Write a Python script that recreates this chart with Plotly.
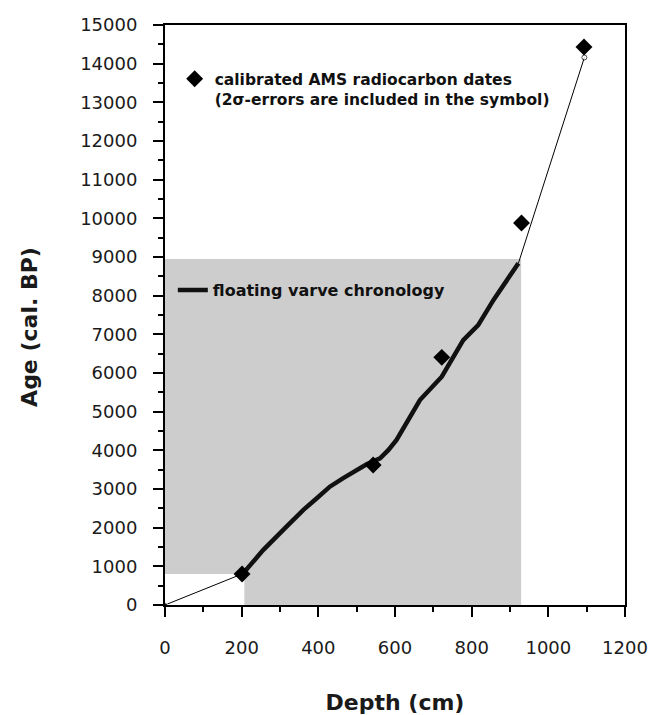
import plotly.graph_objects as go

# ---- data ----
# calibrated AMS radiocarbon dates (depth cm, age cal. BP)
ams_depth = [201, 543, 722, 930, 1093]
ams_age = [800, 3620, 6405, 9880, 14430]

# floating varve chronology
varve_depth = [203, 256, 317, 361, 396, 430, 465, 500, 526, 561, 583, 604,
               665, 722, 743, 778, 817, 857, 922]
varve_age = [810, 1420, 2025, 2460, 2760, 3060, 3280, 3475, 3640, 3795, 4010,
             4270, 5300, 5905, 6250, 6850, 7240, 7890, 8840]

# extrapolated parts of the age model
lower_depth = [0, 203]
lower_age = [0, 810]
upper_depth = [922, 1094]
upper_age = [8840, 14160]

# shaded varve-counted interval (L-shaped region)
shade_depth = [0, 929, 929, 207, 207, 0, 0]
shade_age = [8950, 8950, 0, 0, 800, 800, 8950]

x_ticks = [0, 200, 400, 600, 800, 1000, 1200]
y_ticks = list(range(0, 15001, 1000))

fig = go.Figure()

fig.add_trace(go.Scatter(
    x=shade_depth, y=shade_age, mode="lines", fill="toself",
    fillcolor="#cdcdcd", line=dict(width=0, color="rgba(0,0,0,0)"),
    hoverinfo="skip", showlegend=False))

fig.add_trace(go.Scatter(
    x=lower_depth, y=lower_age, mode="lines+markers",
    line=dict(color="black", width=1),
    marker=dict(size=[5, 0], color="black"),
    showlegend=False))

fig.add_trace(go.Scatter(
    x=upper_depth, y=upper_age, mode="lines+markers",
    line=dict(color="black", width=1),
    marker=dict(size=[0, 5], color="white", symbol="circle",
                line=dict(color="black", width=1)),
    showlegend=False))

fig.add_trace(go.Scatter(
    x=varve_depth, y=varve_age, mode="lines",
    line=dict(color="#111111", width=4.5),
    name="floating varve chronology", legend="legend2"))

fig.add_trace(go.Scatter(
    x=ams_depth, y=ams_age, mode="markers",
    marker=dict(symbol="diamond", size=13, color="black"),
    name="calibrated AMS radiocarbon dates<br>(2σ-errors are included in the symbol)",
    legend="legend"))

axis_common = dict(
    showgrid=False, zeroline=False, showline=True, linecolor="black",
    linewidth=2, mirror=True, ticks="outside", ticklen=10, tickwidth=1.5,
    tickcolor="black", automargin=False,
    tickfont=dict(family="DejaVu Sans", size=18, color="#1a1a1a"),
)

fig.update_xaxes(
    range=[0, 1200], tickvals=x_ticks, ticklabelstandoff=15,
    minor=dict(dtick=100, ticks="outside", ticklen=5, tickwidth=1.5,
               tickcolor="black"),
    title=dict(text="Depth (cm)", standoff=40,
               font=dict(family="DejaVu Sans", size=22, color="#1a1a1a",
                         weight="bold")),
    **axis_common)

fig.update_yaxes(
    range=[0, 15000], tickvals=y_ticks, tickformat="d", ticklabelstandoff=12,
    minor=dict(dtick=500, ticks="outside", ticklen=5, tickwidth=1.5,
               tickcolor="black"),
    **axis_common)

fig.add_annotation(
    text="Age (cal. BP)", textangle=-90, xref="paper", yref="paper",
    x=-0.295, y=0.48, xanchor="center", yanchor="middle", showarrow=False,
    font=dict(family="DejaVu Sans", size=22, color="#1a1a1a", weight="bold"))

fig.update_layout(
    width=652, height=715,
    margin=dict(l=165, r=27, t=25, b=110, autoexpand=False),
    paper_bgcolor="white", plot_bgcolor="white",
    legend=dict(x=0.021, y=0.936, xanchor="left", yanchor="top",
                bgcolor="rgba(0,0,0,0)", valign="top", itemwidth=30,
                font=dict(family="DejaVu Sans", size=15.5, color="#111111",
                          weight="bold")),
    legend2=dict(x=0.017, y=0.543, xanchor="left", yanchor="middle",
                 bgcolor="rgba(0,0,0,0)", itemwidth=30,
                 font=dict(family="DejaVu Sans", size=16, color="#111111",
                           weight="bold")),
)

fig.write_html("out.html")
